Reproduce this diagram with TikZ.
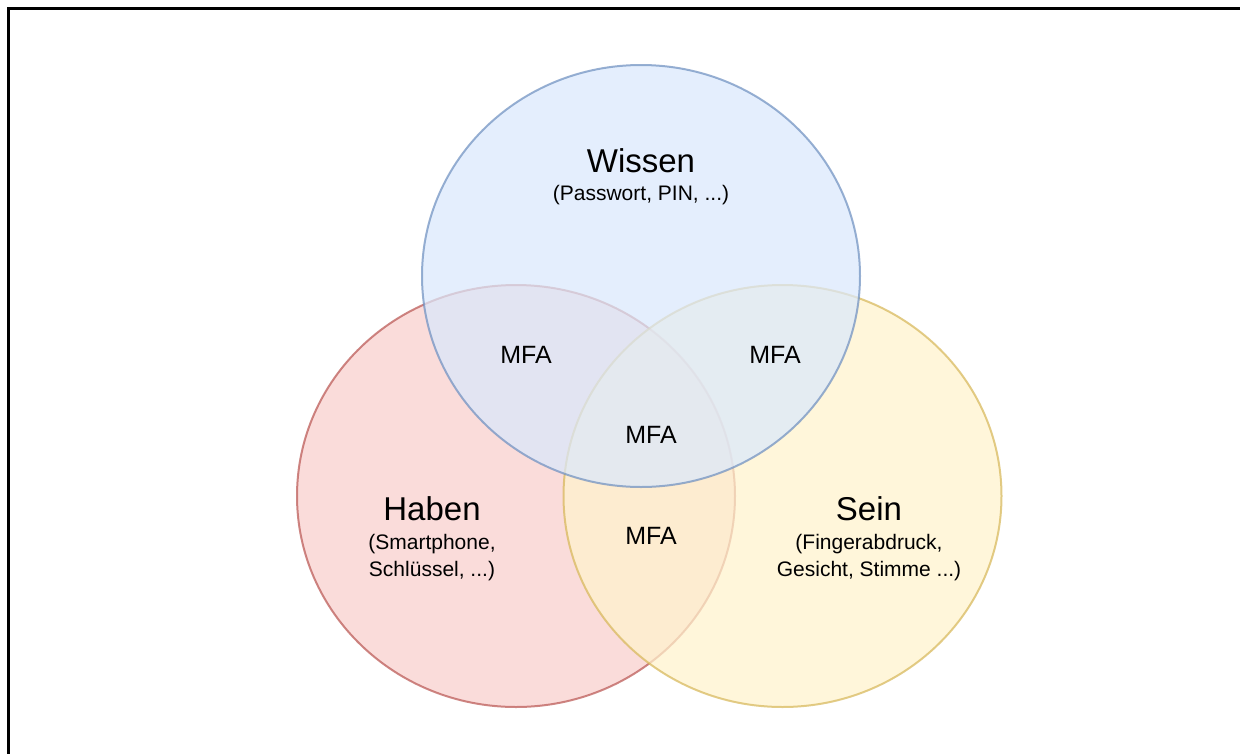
\documentclass[tikz,border=0pt]{standalone}
\usepackage{fontspec}
\setmainfont{Liberation Sans}
\usetikzlibrary{shapes.geometric}

\definecolor{blueFill}{HTML}{DAE8FC}
\definecolor{blueLine}{HTML}{6C8EBF}
\definecolor{redFill}{HTML}{F8CECC}
\definecolor{redLine}{HTML}{B85450}
\definecolor{yellowFill}{HTML}{FFF2CC}
\definecolor{yellowLine}{HTML}{D6B656}

\tikzset{
  setbox/.style={ellipse, minimum width=438pt, minimum height=422pt,
    line width=2pt, fill opacity=0.72, draw opacity=0.7, inner sep=0pt},
  title/.style={font=\fontsize{33}{38}\selectfont, align=center, inner sep=0pt},
  sub/.style={font=\fontsize{21}{27}\selectfont, align=center, inner sep=0pt},
  mfa/.style={font=\fontsize{25}{28}\selectfont, inner sep=0pt}
}

\begin{document}
\begin{tikzpicture}[x=1pt,y=-1pt]
  \useasboundingbox (0,0) rectangle (1240,753);
  \clip (0,0) rectangle (1240,753);

  % outer frame, running off the right and bottom edges
  \draw[line width=3pt] (8,780) -- (8,8) -- (1270,8);

  % the three factor sets
  \node[setbox, draw=redLine, fill=redFill] (haben) at (516,496) {};
  \node[setbox, draw=yellowLine, fill=yellowFill] (sein) at (782.5,496) {};
  \node[setbox, draw=blueLine, fill=blueFill] (wissen) at (641,276) {};

  % set labels
  \node[title] (tWissen) at (641,161) {Wissen};
  \node[sub] (sWissen) at (641,195) {(Passwort, PIN, ...)};

  \node[title] (tHaben) at (432,509) {Haben};
  \node[sub] (sHaben) at (432,558) {(Smartphone,\\Schlüssel, ...)};

  \node[title] (tSein) at (869,509) {Sein};
  \node[sub] (sSein) at (869,558) {(Fingerabdruck,\\Gesicht, Stimme ...)};

  % intersections
  \node[mfa] (m1) at (526,355) {MFA};
  \node[mfa] (m2) at (775,355) {MFA};
  \node[mfa] (m3) at (651,435) {MFA};
  \node[mfa] (m4) at (651,536) {MFA};
\end{tikzpicture}
\end{document}
